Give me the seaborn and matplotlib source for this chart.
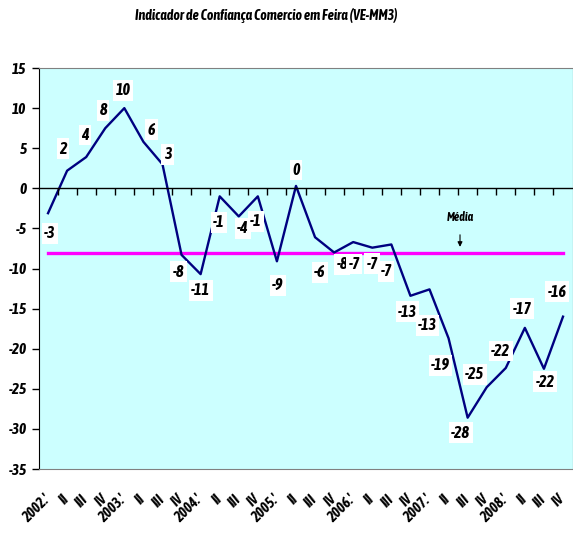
import numpy as np
import pandas as pd
import matplotlib
matplotlib.use("Agg")
import matplotlib.pyplot as plt
import seaborn as sns

# Dados trimestrais (2002 I - 2008 IV)
trimestres = ["2002.'", "II", "III", "IV", "2003.'", "II", "III", "IV",
              "2004.'", "II", "III", "IV", "2005.'", "II", "III", "IV",
              "2006.'", "II", "III", "IV", "2007.'", "II", "III", "IV",
              "2008.'", "II", "III", "IV"]
valores = [-3.1, 2.2, 3.9, 7.5, 10.0, 5.8, 3.0,
           -8.3, -10.7, -1.0, -3.5, -1.0, -9.1, 0.3,
           -6.1, -8.0, -6.7, -7.4, -7.0, -13.4, -12.6,
           -18.7, -28.6, -24.8, -22.4, -17.4, -22.5, -16.0]
rotulos = ["-3", "2", "4", "8", "10", "6", "3",
           "-8", "-11", "-1", "-4", "-1", "-9", "0",
           "-6", "-8", "-7", "-7", "-7", "-13", "-13",
           "-19", "-28", "-25", "-22", "-17", "-22", "-16"]
media = -8.1

# deslocamento dos rótulos (px)
desloc = [(2, -20), (-4, 22), (-1, 22), (-2, 18), (-1, 18), (8, 12), (5, 10),
          (-3, -17), (0, -16), (-1, -26), (4, -12), (-2, -25), (1, -24), (0, 16),
          (5, -35), (8, -12), (1, -22), (0, -16), (-5, -27), (-3, -16), (-2, -36),
          (-8, -27), (-7, -15), (-12, 13), (-5, 17), (-3, 19), (1, -13), (-6, 25)]

df = pd.DataFrame({"pos": np.arange(len(valores)), "valor": valores})

fonte = ["Asap Condensed", "Liberation Sans", "DejaVu Sans"]
plt.rcParams["font.family"] = fonte

fig = plt.figure(figsize=(5.73, 5.37), dpi=100)
ax = fig.add_axes([0.0672, 0.1266, 0.932, 0.7467])
ax.set_facecolor("#CCFFFF")

sns.lineplot(data=df, x="pos", y="valor", color="#000080", linewidth=1.7, ax=ax)
ax.plot([df["pos"].iloc[0], df["pos"].iloc[-1]], [media, media],
        color="#FF00FF", linewidth=2.4, zorder=1)

for x, y, t, (dx, dy) in zip(df["pos"], df["valor"], rotulos, desloc):
    ax.annotate(t, (x, y), xytext=(dx * 0.72, dy * 0.72), textcoords="offset points",
                ha="center", va="center", fontsize=11.5, fontweight="bold", fontstyle="italic",
                bbox=dict(boxstyle="square,pad=0.15", fc="white", ec="none"), zorder=5)

ax.annotate("Média", xy=(21.6, -7.3), xytext=(21.6, -3.6), ha="center", va="center",
            fontsize=8.5, fontweight="bold", fontstyle="italic",
            arrowprops=dict(arrowstyle="-|>", color="black", lw=0.8, mutation_scale=7,
                            shrinkA=6, shrinkB=0))

ax.set_xlim(-0.5, len(valores) - 0.5)
ax.set_ylim(-35, 15)
ax.set_yticks(np.arange(-35, 16, 5))
ax.set_yticklabels([str(v) for v in np.arange(-35, 16, 5)], fontsize=11,
                   fontweight="bold", fontstyle="italic")
ax.tick_params(axis="y", direction="out", length=5, width=1)
ax.set_xticks(df["pos"])
ax.set_xticklabels(trimestres, rotation=45, ha="right", va="center",
                   rotation_mode="anchor", fontsize=10.5, fontweight="bold", fontstyle="italic")
ax.tick_params(axis="x", length=0, pad=20)
ax.set_xlabel("")
ax.set_ylabel("")

# eixo das categorias em y=0
ax2 = ax.twiny()
ax2.set_xlim(ax.get_xlim())
ax2.xaxis.set_ticks_position("bottom")
ax2.spines["bottom"].set_position(("data", 0))
ax2.set_xticks(np.arange(len(valores) - 1) + 0.5)
ax2.set_xticklabels([])
ax2.tick_params(axis="x", direction="out", length=5, width=1)
for s in ["top", "left", "right"]:
    ax2.spines[s].set_visible(False)
ax2.spines["bottom"].set_linewidth(1)

ax.spines["left"].set_color("black")
for s in ["top", "bottom", "right"]:
    ax.spines[s].set_color("#808080")
ax.spines["right"].set_color("#404040")

fig.suptitle("Indicador de Confiança Comercio em Feira (VE-MM3)", x=0.465, y=0.985,
             fontsize=10, fontweight="bold", fontstyle="italic")

fig.savefig("out.png", dpi=100)
